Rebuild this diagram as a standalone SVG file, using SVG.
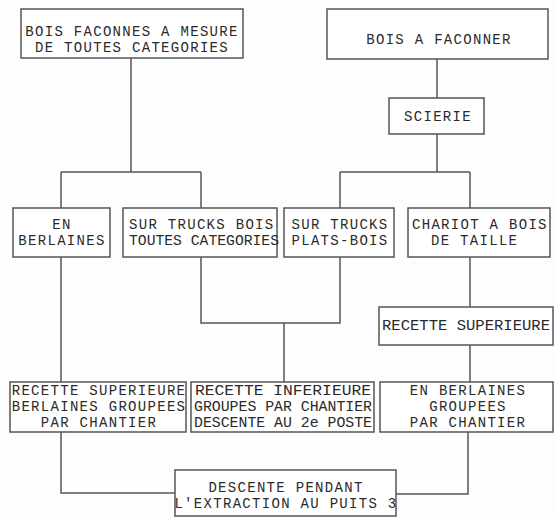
<svg xmlns="http://www.w3.org/2000/svg" width="555" height="518" viewBox="0 0 555 518">
<style>
.bg{fill:#fdfdfd}
.box{fill:#ffffff;stroke:#555;stroke-width:1.5}
.ln{fill:none;stroke:#555;stroke-width:1.5}
text{font-family:"Liberation Mono","Courier New",monospace;font-size:14px;letter-spacing:1.3px;fill:#2a2a2a}
.c{text-anchor:middle}
.fit{letter-spacing:0}
</style>
<rect class="bg" x="0" y="0" width="555" height="518"/>
<g id="connectors">
<path class="ln" d="M131 58V172M61 172H201M61 172V208M201 172V208"/>
<path class="ln" d="M437 59V98M437 134V172M340 172H470M340 172V208M470 172V208"/>
<path class="ln" d="M61 257V382"/>
<path class="ln" d="M201 257V323H340V257M284 323V382"/>
<path class="ln" d="M470 257V307M470 345V382"/>
<path class="ln" d="M61 432V493H175"/>
<path class="ln" d="M468 432V494H396"/>
</g>
<g id="n-faconnes">
<rect class="box" x="21" y="9" width="222" height="49"/>
<text class="c" x="132" y="36">BOIS FACONNES A MESURE</text>
<text class="c" x="132" y="52">DE TOUTES CATEGORIES</text>
</g>
<g id="n-afaconner">
<rect class="box" x="327" y="9" width="221" height="50"/>
<text class="c" x="439" y="44">BOIS A FACONNER</text>
</g>
<g id="n-scierie">
<rect class="box" x="389" y="98" width="95" height="36"/>
<text class="c" x="438" y="121">SCIERIE</text>
</g>
<g id="n-berlaines">
<rect class="box" x="13" y="208" width="97" height="49"/>
<text class="c" x="62" y="229">EN</text>
<text class="c" x="62" y="245">BERLAINES</text>
</g>
<g id="n-trucks-bois">
<rect class="box" x="123" y="208" width="154" height="49"/>
<text x="129" y="229">SUR TRUCKS BOIS</text>
<text class="fit" x="129" y="245" textLength="150" lengthAdjust="spacingAndGlyphs">TOUTES CATEGORIES</text>
</g>
<g id="n-plats-bois">
<rect class="box" x="284" y="208" width="110" height="49"/>
<text class="c" x="340" y="229">SUR TRUCKS</text>
<text class="c" x="340" y="245">PLATS-BOIS</text>
</g>
<g id="n-chariot">
<rect class="box" x="408" y="208" width="142" height="49"/>
<text x="412" y="229">CHARIOT A BOIS</text>
<text x="431" y="245">DE TAILLE</text>
</g>
<g id="n-recette-sup-r">
<rect class="box" x="379" y="307" width="174" height="38"/>
<text class="fit" x="382" y="330" textLength="168" lengthAdjust="spacingAndGlyphs">RECETTE SUPERIEURE</text>
</g>
<g id="n-recette-sup-l">
<rect class="box" x="10" y="382" width="176" height="50"/>
<text class="c" x="99" y="395">RECETTE SUPERIEURE</text>
<text class="c" x="99" y="411">BERLAINES GROUPEES</text>
<text class="c" x="99" y="427">PAR CHANTIER</text>
</g>
<g id="n-recette-inf">
<rect class="box" x="191" y="382" width="183" height="50"/>
<text class="fit" x="195" y="395" textLength="176" lengthAdjust="spacingAndGlyphs">RECETTE INFERIEURE</text>
<text class="fit" x="194" y="411" textLength="178" lengthAdjust="spacingAndGlyphs">GROUPES PAR CHANTIER</text>
<text class="fit" x="194" y="427" textLength="178" lengthAdjust="spacingAndGlyphs">DESCENTE AU 2e POSTE</text>
</g>
<g id="n-en-berlaines-groupees">
<rect class="box" x="380" y="382" width="173" height="50"/>
<text class="c" x="468" y="395">EN BERLAINES</text>
<text class="c" x="468" y="411">GROUPEES</text>
<text class="c" x="468" y="427">PAR CHANTIER</text>
</g>
<g id="n-descente">
<rect class="box" x="175" y="470" width="221" height="46"/>
<text class="c" x="286" y="492">DESCENTE PENDANT</text>
<text class="c" x="286" y="508">L'EXTRACTION AU PUITS 3</text>
</g>
</svg>
